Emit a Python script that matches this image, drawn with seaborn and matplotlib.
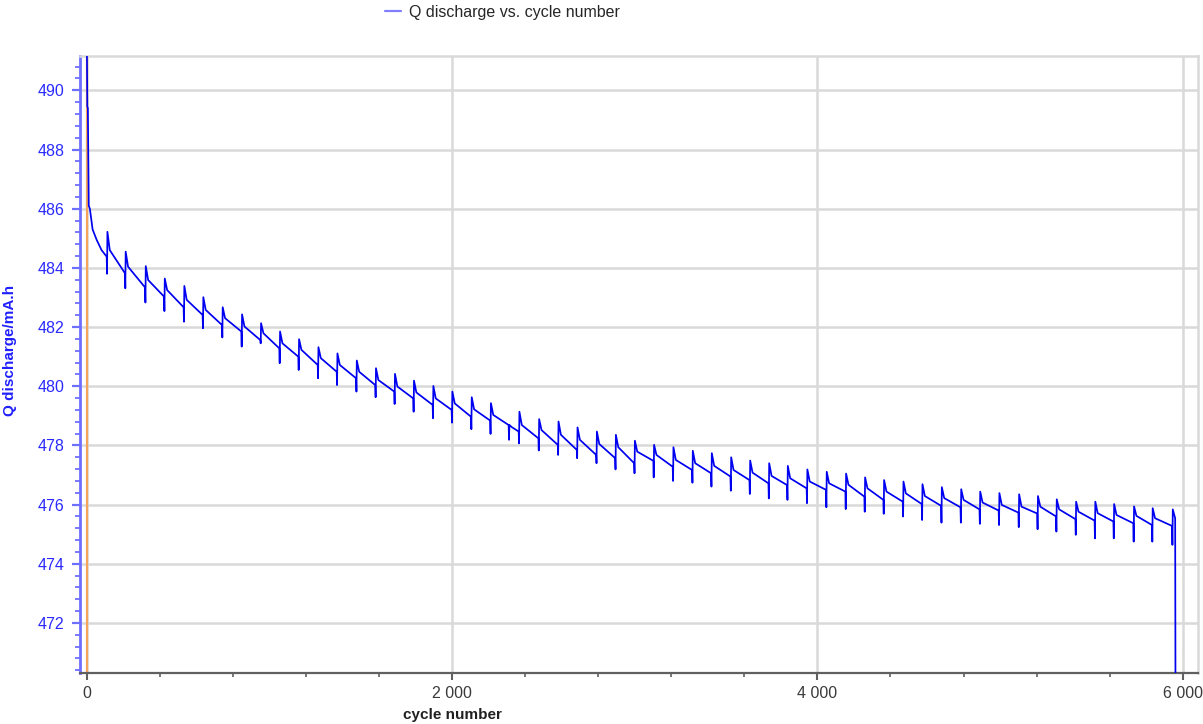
import numpy as np
import pandas as pd
import matplotlib
matplotlib.use("Agg")
import matplotlib.pyplot as plt
from matplotlib.ticker import MultipleLocator, FuncFormatter
from matplotlib.lines import Line2D
import seaborn as sns

# start of the run (steep initial fade)
head_cycles = [1, 4, 7, 12, 18, 33, 55, 82]
head_q = [492.0, 489.45, 489.4, 486.1, 486.0, 485.3, 484.95, 484.6]

# each rest/check-up break: cycle, value before, dip, peak, value shortly after
break_cycles = [113, 213, 323, 427, 534, 638, 744, 850, 954, 1058,
                1162, 1268, 1372, 1478, 1583, 1687, 1791, 1897, 2001, 2107,
                2212, 2313, 2368, 2476, 2582, 2686, 2792, 2896, 3000, 3105,
                3211, 3317, 3421, 3527, 3631, 3735, 3837, 3944, 4050, 4156,
                4260, 4364, 4470, 4574, 4680, 4786, 4890, 4995, 5103, 5206,
                5309, 5415, 5520, 5623, 5732, 5834, 5944]
q_before = [484.38, 483.82, 483.34, 483.03, 482.67, 482.41, 482.07, 481.85, 481.56, 481.28,
            481.00, 480.72, 480.49, 480.27, 480.04, 479.82, 479.59, 479.37, 479.20, 478.97,
            478.84, 478.69, 478.47, 478.24, 478.02, 477.85, 477.68, 477.57, 477.40, 477.48,
            477.28, 477.17, 477.06, 476.95, 476.83, 476.72, 476.66, 476.55, 476.50, 476.44,
            476.27, 476.16, 476.10, 476.02, 475.96, 475.91, 475.84, 475.80, 475.73, 475.70,
            475.60, 475.51, 475.46, 475.43, 475.37, 475.31, 475.28]
q_dip = [483.80, 483.31, 482.83, 482.54, 482.18, 481.96, 481.65, 481.34, 481.45, 480.78,
         480.55, 480.27, 480.04, 479.82, 479.63, 479.40, 479.14, 478.92, 478.77, 478.55,
         478.39, 478.19, 478.07, 477.83, 477.68, 477.57, 477.40, 477.19, 477.06, 476.92,
         476.80, 476.74, 476.61, 476.47, 476.36, 476.21, 476.16, 476.05, 475.91, 475.85,
         475.76, 475.69, 475.60, 475.48, 475.39, 475.39, 475.35, 475.31, 475.24, 475.17,
         475.09, 474.98, 474.86, 474.86, 474.75, 474.75, 474.64]
q_peak = [485.22, 484.55, 484.06, 483.64, 483.39, 483.01, 482.67, 482.43, 482.13, 481.85,
          481.59, 481.32, 481.11, 480.87, 480.61, 480.42, 480.19, 480.01, 479.82, 479.63,
          479.43, 478.69, 479.14, 478.89, 478.81, 478.61, 478.47, 478.36, 478.16, 478.02,
          477.94, 477.82, 477.74, 477.60, 477.49, 477.40, 477.31, 477.19, 477.11, 477.05,
          476.92, 476.83, 476.78, 476.69, 476.59, 476.52, 476.44, 476.39, 476.35, 476.29,
          476.18, 476.10, 476.10, 476.02, 475.94, 475.88, 475.84]
q_after = [484.60, 484.04, 483.59, 483.25, 482.92, 482.58, 482.30, 482.02, 481.79, 481.45,
           481.23, 480.95, 480.72, 480.49, 480.21, 479.99, 479.79, 479.59, 479.42, 479.22,
           479.03, 478.62, 478.69, 478.52, 478.36, 478.19, 478.05, 477.94, 477.79, 477.68,
           477.51, 477.40, 477.31, 477.17, 477.08, 476.97, 476.89, 476.78, 476.72, 476.67,
           476.55, 476.44, 476.38, 476.29, 476.22, 476.16, 476.07, 475.99, 475.93, 475.93,
           475.84, 475.76, 475.71, 475.65, 475.62, 475.54, 475.54]

# end of test: capacity falls off the chart
tail_cycles = [5958, 5960]
tail_q = [475.54, 469.0]

marker_cycle = 0

# build the polyline
cycles = list(head_cycles)
q = list(head_q)
for c, b, d, p, a in zip(break_cycles, q_before, q_dip, q_peak, q_after):
    cycles += [c - 3, c - 1, c + 1, c + 14]
    q += [b, d, p, a]
cycles += tail_cycles
q += tail_q
df = pd.DataFrame({"cycle number": cycles, "Q discharge/mA.h": q})

sns.set_style("white")
plt.rcParams["font.family"] = ["Liberation Sans", "DejaVu Sans"]

blue = "#0000f0"
axis_blue = "#6e6eff"
grid_col = "#d9d9d9"

fig = plt.figure(figsize=(12.03, 7.24), dpi=100)
ax = fig.add_axes([80 / 1203, 51 / 724, 1118 / 1203, 617 / 724])

ax.axvline(marker_cycle, color="#f4a45c", lw=1.6, zorder=2)
sns.lineplot(data=df, x="cycle number", y="Q discharge/mA.h", ax=ax,
             estimator=None, sort=False, color=blue, lw=1.25, zorder=3)

ax.set_xlim(-36, 6083)
ax.set_ylim(470.31, 491.16)

ax.xaxis.set_major_locator(MultipleLocator(2000))
ax.xaxis.set_minor_locator(MultipleLocator(400))
ax.yaxis.set_major_locator(MultipleLocator(2))
ax.yaxis.set_minor_locator(MultipleLocator(0.4))
ax.xaxis.set_major_formatter(FuncFormatter(lambda v, pos: f"{int(v):,}".replace(",", " ")))

ax.grid(True, which="major", color=grid_col, lw=1.8)
ax.set_axisbelow(True)

for s in ["top", "right"]:
    ax.spines[s].set_color(grid_col)
    ax.spines[s].set_linewidth(1.8)
ax.spines["left"].set_color(axis_blue)
ax.spines["left"].set_linewidth(2)
ax.spines["bottom"].set_color("#606060")
ax.spines["bottom"].set_linewidth(1.6)

ax.tick_params(which="both", left=True, bottom=True, top=False, right=False)
ax.tick_params(axis="y", which="major", direction="out", length=6, width=1.6,
               color=axis_blue, labelcolor="#2a2aff", labelsize=11.5, pad=5)
ax.tick_params(axis="y", which="minor", direction="out", length=3.5, width=1.3, color=axis_blue)
ax.tick_params(axis="x", which="major", direction="out", length=5, width=1.5,
               color="#606060", labelcolor="#3a3a3a", labelsize=11.5, pad=4)
ax.tick_params(axis="x", which="minor", direction="out", length=3, width=1.2, color="#606060")

ax.set_xlabel("cycle number", fontsize=11, fontweight="bold", color="#202020")
ax.set_ylabel("Q discharge/mA.h", fontsize=11, fontweight="bold", color="#2020ff")
ax.xaxis.set_label_coords(0.333, -0.056)
ax.yaxis.set_label_coords(-0.056, 0.523)

handle = Line2D([], [], color="#8080ff", lw=1.6)
fig.legend([handle], ["Q discharge vs. cycle number"], loc="center left",
           bbox_to_anchor=(371 / 1203, 1 - 12 / 724), frameon=False,
           handlelength=1.0, handletextpad=0.45, fontsize=11.5)

fig.savefig("out.png", dpi=100)
